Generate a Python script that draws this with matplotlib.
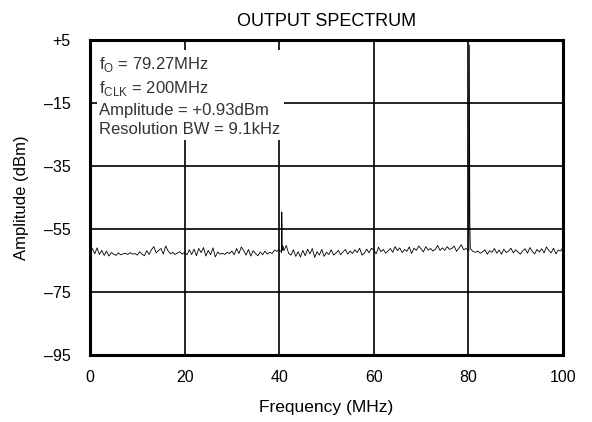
import numpy as np
import matplotlib
matplotlib.use('Agg')
import matplotlib.pyplot as plt

plt.rcParams['font.family'] = ['Liberation Sans', 'DejaVu Sans']

# noise floor, 0.5 MHz steps from 0 to 100 MHz
freq = np.arange(0, 100.5, 0.5)
noise = [
    -62.6, -61.2, -62.9, -61.0, -63.1, -61.8, -63.4, -62.0, -63.6, -62.5,
    -63.0, -63.4, -62.6, -63.2, -62.9, -62.7, -63.1, -62.5, -63.0, -62.8,
    -63.3, -62.2, -63.0, -63.5, -61.9, -63.1, -61.6, -60.6, -62.6, -61.8,
    -61.2, -63.0, -60.4, -61.9, -62.9, -62.4, -63.1, -62.6, -62.2, -63.0,
    -62.4, -63.2, -61.6, -63.1, -61.4, -63.5, -61.2, -62.5, -60.9, -63.6,
    -61.8, -63.2, -61.0, -63.9, -62.3, -63.0, -62.7, -63.1, -62.4, -62.8,
    -62.0, -63.2, -61.2, -62.8, -60.7, -61.9, -63.3, -61.5, -63.6, -61.9,
    -62.8, -63.5, -62.3, -63.2, -62.0, -63.0, -62.4, -62.8, -61.7, -62.1,
    -61.6, -62.5, -61.9, -60.2, -62.8, -63.3, -61.6, -63.7, -62.2, -63.9,
    -61.8, -63.5, -61.4, -62.9, -61.2, -64.0, -62.2, -63.3, -61.5, -63.7,
    -62.4, -63.1, -61.6, -63.3, -62.7, -61.8, -63.2, -62.3, -61.5, -63.0,
    -62.0, -62.8, -61.6, -62.5, -61.1, -63.3, -62.7, -61.4, -62.6, -61.1,
    -61.7, -62.9, -60.8, -62.2, -61.5, -62.7, -62.0, -61.2, -62.4, -60.6,
    -61.9, -61.0, -62.5, -61.5, -62.1, -60.7, -62.8, -61.1, -61.8, -60.4,
    -61.3, -62.3, -60.6, -61.7, -61.2, -62.0, -61.5, -60.2, -61.8, -61.0,
    -61.8, -60.6, -61.5, -61.2, -60.4, -62.1, -61.1, -60.0, -61.6, -61.2,
    -61.8, -61.4, -62.2, -62.4, -62.0, -62.7, -62.3, -61.6, -63.0, -61.9,
    -62.4, -61.2, -62.7, -61.7, -63.0, -61.4, -62.5, -62.0, -61.1, -62.6,
    -61.6, -62.4, -63.0, -61.9, -61.3, -62.7, -60.9, -62.1, -62.9, -61.5,
    -62.3, -61.3, -62.6, -60.7, -61.8, -62.6, -61.1, -62.9, -61.7, -62.0,
    -60.9,
]

# spur and carrier
spur_f = [40.45, 40.55, 40.65, 40.8]
spur_a = [-62.2, -49.6, -61.8, -60.4]
carrier_f = [80.1, 80.2, 80.3, 80.4]
carrier_a = [-62.0, 3.4, -52.0, -60.7]

f = np.concatenate([freq, spur_f, carrier_f])
a = np.concatenate([noise, spur_a, carrier_a])
order = np.argsort(f, kind='stable')
f, a = f[order], a[order]

xticks = [0, 20, 40, 60, 80, 100]
yticks = [-95, -75, -55, -35, -15, 5]
ylabels = ['\u201395', '\u201375', '\u201355', '\u201335', '\u201315', '+5']

fig = plt.figure(figsize=(5.92, 4.22), dpi=100)
ax = fig.add_axes([0.152, 0.159, 0.799, 0.746])

ax.plot(f, a, color='black', lw=0.6)

ax.set_xlim(0, 100)
ax.set_ylim(-95, 5)
ax.set_xticks(xticks)
ax.set_yticks(yticks)
ax.set_yticklabels(ylabels)
ax.tick_params(length=0, labelsize=11.5)
ax.tick_params(axis='y', pad=14)
ax.tick_params(axis='x', pad=11)
ax.grid(True, color='black', lw=1.2)
for s in ax.spines.values():
    s.set_linewidth(2.2)

ax.set_xlabel('Frequency (MHz)', fontsize=12.5, labelpad=11)
ax.set_ylabel('Amplitude (dBm)', fontsize=12, labelpad=11)
ax.set_title('OUTPUT SPECTRUM', fontsize=13, pad=10)

txt = ('f$_\\mathregular{O}$ = 79.27MHz\n'
       'f$_\\mathregular{CLK}$ = 200MHz\n'
       'Amplitude = +0.93dBm\n'
       'Resolution BW = 9.1kHz')
ax.text(2.0, 0.2, txt, fontsize=12, va='top', ha='left', linespacing=1.36,
        color='#333333',
        bbox=dict(facecolor='white', edgecolor='none', pad=2))

fig.savefig('out.png', dpi=100)
